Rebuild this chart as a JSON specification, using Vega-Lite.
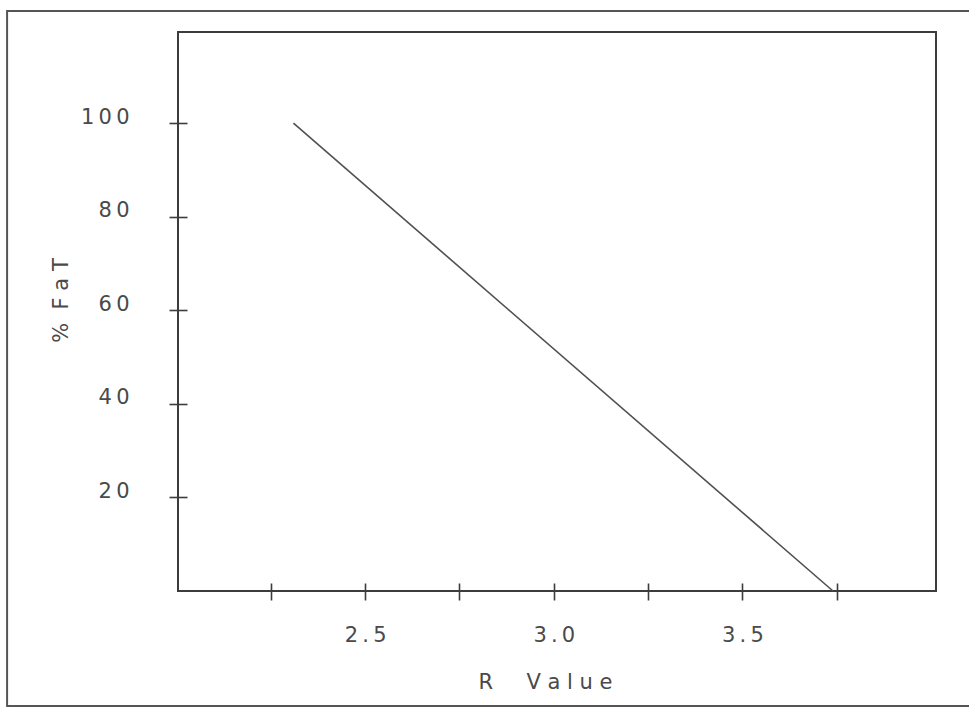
{
  "$schema": "https://vega.github.io/schema/vega-lite/v6.json",
  "autosize": {"type": "none"},
  "padding": {"left": 178, "top": 32, "right": 33, "bottom": 116},
  "width": 758,
  "height": 559,
  "background": "white",
  "config": {
    "view": {"stroke": "#3c3c3c", "strokeWidth": 2},
    "axis": {
      "labelFont": "DejaVu Sans",
      "titleFont": "DejaVu Sans",
      "labelFontSize": 21,
      "titleFontSize": 21,
      "labelFontWeight": "normal",
      "titleFontWeight": "normal",
      "labelColor": "#4a4a4a",
      "titleColor": "#4a4a4a",
      "tickColor": "#3c3c3c",
      "tickWidth": 1.6,
      "grid": false,
      "domain": false
    }
  },
  "layer": [
    {
      "data": {"values": [{}]},
      "mark": {"type": "rect", "fill": null, "stroke": "#555555", "strokeWidth": 2, "clip": false},
      "encoding": {
        "x": {"datum": 1.551, "type": "quantitative", "scale": {"domain": [2.004, 4.013], "nice": false, "zero": false}},
        "x2": {"datum": 4.8},
        "y": {"datum": 124.0, "type": "quantitative", "scale": {"domain": [0, 119.5], "nice": false, "zero": false}},
        "y2": {"datum": -24.6}
      }
    },
    {
      "data": {"values": [{"r": 2.31, "fat": 100}, {"r": 3.74, "fat": 0}]},
      "mark": {"type": "line", "color": "#505050", "strokeWidth": 1.6},
      "encoding": {
        "x": {
          "field": "r",
          "type": "quantitative",
          "scale": {"domain": [2.004, 4.013], "nice": false, "zero": false},
          "axis": {
            "title": "R\u00a0\u00a0\u00a0\u00a0\u00a0V\u00a0a\u00a0l\u00a0u\u00a0e",
            "values": [2.25, 2.5, 2.75, 3, 3.25, 3.5, 3.75],
            "labelExpr": "(datum.value == 2.5 || datum.value == 3 || datum.value == 3.5) ? join(split(format(datum.value, '.1f'), ''), '\u2009') : ''",
            "offset": -8,
            "tickSize": 17,
            "labelPadding": 41,
            "labelBaseline": "alphabetic",
            "labelFlush": false,
            "labelOverlap": false,
            "titleX": 367,
            "titleY": 105,
            "titleAlign": "center",
            "titleBaseline": "alphabetic",
            "titleAnchor": null
          }
        },
        "y": {
          "field": "fat",
          "type": "quantitative",
          "scale": {"domain": [0, 119.5], "nice": false, "zero": false},
          "axis": {
            "title": "%\u00a0\u00a0F\u00a0a\u00a0T",
            "values": [20, 40, 60, 80, 100],
            "labelExpr": "join(split(datum.label, ''), '\u2009')",
            "offset": -9,
            "tickSize": 18,
            "labelPadding": 40,
            "labelBaseline": "alphabetic",
            "labelFlush": false,
            "labelOverlap": false,
            "titleX": -120,
            "titleY": 268,
            "titleAngle": -90,
            "titleAlign": "center",
            "titleBaseline": "alphabetic",
            "titleAnchor": null
          }
        }
      }
    }
  ]
}
